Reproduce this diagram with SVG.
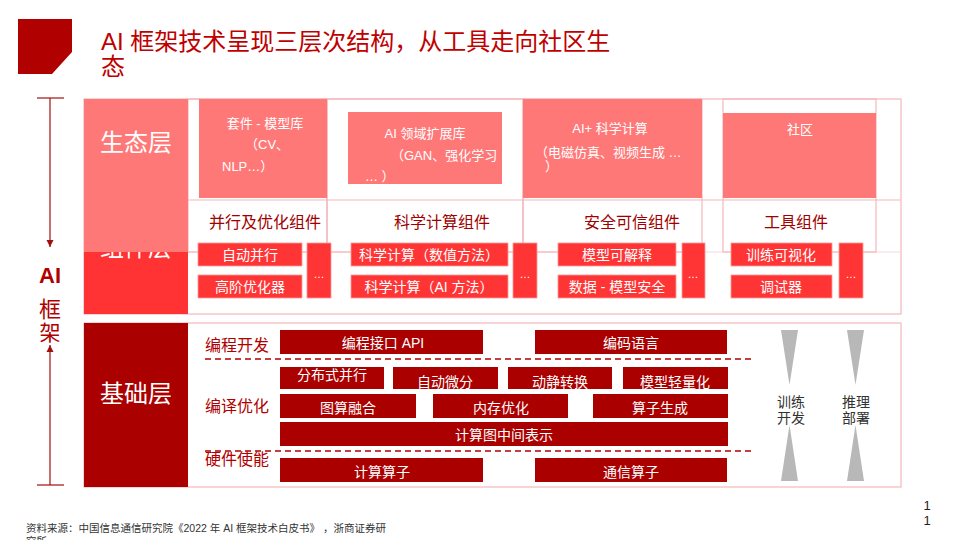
<svg xmlns="http://www.w3.org/2000/svg" width="960" height="540" viewBox="0 0 960 540">
<defs>
<style>
text{font-family:"Liberation Sans","Noto Sans CJK SC",sans-serif;}
.frame{fill:none;stroke:#F4B8BC;stroke-width:1.2;}
.pink{fill:#FF7878;}
.red{fill:#FF3535;stroke:#FF9A9A;stroke-width:0.8;}
.dark{fill:#AB0000;}
.wt{fill:#FFFFFF;font-size:13px;}
.wc{fill:#FFFFFF;font-size:14px;text-anchor:middle;}
.ct{fill:#A00000;font-size:16px;text-anchor:middle;}
.bl{fill:#B00000;font-size:16px;}
.layer{fill:#FFFFFF;font-size:24px;text-anchor:middle;}
.dots{fill:#FFFFFF;font-size:11px;text-anchor:middle;}
.dash{stroke:#B00000;stroke-width:1.3;stroke-dasharray:6 4;fill:none;}
.axis{stroke:#A01010;stroke-width:1.2;fill:none;}
.tri{fill:#B8B8B8;}
.gt{fill:#333333;font-size:14px;text-anchor:middle;}
</style>
<marker id="ah" viewBox="0 0 10 10" refX="10" refY="5" markerWidth="6" markerHeight="6" orient="auto-start-reverse">
<path d="M0,0 L10,5 L0,10 z" fill="#A01010"/>
</marker>
</defs>
<rect width="960" height="540" fill="#FFFFFF"/>

<g id="title">
<polygon points="18,19 72,19 72,52 52,74 18,74" fill="#B00000"/>
<text x="101" y="50" style="font-size:24px;fill:#C00000;">AI 框架技术呈现三层次结构，从工具走向社区生</text>
<text x="101" y="75" style="font-size:24px;fill:#C00000;">态</text>
</g>

<g id="axis-label">
<text x="50" y="283" style="font-size:22px;font-weight:bold;fill:#B00000;text-anchor:middle;">AI</text>
<text x="50" y="317" style="font-size:22px;fill:#B00000;text-anchor:middle;">框</text>
<text x="50" y="340" style="font-size:21px;fill:#B00000;text-anchor:middle;">架</text>
</g>

<g id="connectors">
<line x1="37" y1="98" x2="64" y2="98" class="axis"/>
<line x1="50" y1="98" x2="50" y2="247" class="axis" marker-end="url(#ah)"/>
<line x1="37" y1="485" x2="64" y2="485" class="axis"/>
<line x1="50" y1="485" x2="50" y2="345" class="axis" marker-end="url(#ah)"/>
</g>

<g id="upper-panel">
<rect x="84" y="99" width="817" height="215" class="frame"/>
<line x1="188" y1="200" x2="901" y2="200" class="frame"/>
<line x1="188" y1="252" x2="901" y2="252" class="frame" style="stroke:#F8D8DA"/>
<rect x="188" y="99" width="139" height="153" class="frame"/>
<rect x="327" y="99" width="196" height="153" class="frame"/>
<rect x="523" y="99" width="179" height="153" class="frame"/>
<rect x="723" y="99" width="153" height="153" class="frame"/>
</g>

<g id="layer-component">
<rect x="84" y="200" width="104" height="114" fill="#FF3333"/>
<text x="136" y="256" class="layer">组件层</text>
</g>
<g id="layer-eco">
<rect x="84" y="99" width="104" height="153" class="pink"/>
<text x="136" y="151" class="layer">生态层</text>
</g>

<g id="eco-kit">
<rect x="199" y="99" width="128" height="99" class="pink"/>
<text x="265" y="128" class="wt" text-anchor="middle">套件 - 模型库</text>
<text x="245" y="149" class="wt">（CV、</text>
<text x="222" y="171" class="wt">NLP…）</text>
</g>
<g id="eco-ext">
<rect x="348" y="112" width="154" height="72" class="pink"/>
<text x="425" y="138" class="wt" text-anchor="middle">AI 领域扩展库</text>
<text x="391" y="160" class="wt">（GAN、强化学习</text>
<text x="365" y="181" class="wt">… ）</text>
</g>
<g id="eco-sci">
<rect x="523" y="99" width="179" height="99" class="pink"/>
<text x="610" y="133" class="wt" text-anchor="middle">AI+ 科学计算</text>
<text x="535" y="157" class="wt">（电磁仿真、视频生成 …</text>
<text x="545" y="171" class="wt">）</text>
</g>
<g id="eco-community">
<rect x="723" y="113" width="153" height="85" class="pink"/>
<text x="800" y="134" class="wt" text-anchor="middle">社区</text>
</g>

<g id="comp-parallel">
<text x="265" y="228" class="ct">并行及优化组件</text>
<rect x="198" y="243" width="104" height="23" class="red"/>
<text x="250" y="260" class="wc">自动并行</text>
<rect x="198" y="275" width="104" height="23" class="red"/>
<text x="250" y="292" class="wc">高阶优化器</text>
<rect x="307" y="243" width="24" height="55" class="red"/>
<text x="319" y="278" class="dots">…</text>
</g>
<g id="comp-sci">
<text x="442" y="228" class="ct">科学计算组件</text>
<rect x="351" y="243" width="157" height="23" class="red"/>
<text x="429" y="260" class="wc">科学计算（数值方法）</text>
<rect x="351" y="275" width="157" height="23" class="red"/>
<text x="429" y="292" class="wc">科学计算（AI 方法）</text>
<rect x="513" y="243" width="24" height="55" class="red"/>
<text x="525" y="278" class="dots">…</text>
</g>
<g id="comp-safe">
<text x="632" y="228" class="ct">安全可信组件</text>
<rect x="558" y="243" width="118" height="23" class="red"/>
<text x="617" y="260" class="wc">模型可解释</text>
<rect x="558" y="275" width="118" height="23" class="red"/>
<text x="617" y="292" class="wc">数据 - 模型安全</text>
<rect x="682" y="243" width="23" height="55" class="red"/>
<text x="693" y="278" class="dots">…</text>
</g>
<g id="comp-tool">
<text x="796" y="228" class="ct">工具组件</text>
<rect x="731" y="243" width="101" height="23" class="red"/>
<text x="781" y="260" class="wc">训练可视化</text>
<rect x="731" y="275" width="101" height="23" class="red"/>
<text x="781" y="292" class="wc">调试器</text>
<rect x="839" y="243" width="24" height="55" class="red"/>
<text x="851" y="278" class="dots">…</text>
</g>

<g id="base-panel">
<rect x="84" y="323" width="817" height="164" class="frame"/>
<rect x="84" y="323" width="104" height="164" class="dark"/>
<text x="136" y="402" class="layer">基础层</text>
<line x1="205" y1="359" x2="753" y2="359" class="dash"/>
<line x1="205" y1="451" x2="753" y2="451" class="dash"/>
</g>

<g id="base-prog">
<text x="205" y="351" class="bl">编程开发</text>
<rect x="280" y="330" width="203" height="24" class="dark"/>
<text x="383" y="348" class="wc">编程接口 API</text>
<rect x="535" y="330" width="192" height="24" class="dark"/>
<text x="631" y="348" class="wc">编码语言</text>
</g>
<g id="base-compile">
<text x="205" y="412" class="bl">编译优化</text>
<rect x="280" y="367" width="104" height="22" class="dark"/>
<text x="332" y="380" class="wc">分布式并行</text>
<rect x="393" y="367" width="105" height="22" class="dark"/>
<text x="445" y="387" class="wc">自动微分</text>
<rect x="508" y="367" width="104" height="22" class="dark"/>
<text x="560" y="387" class="wc">动静转换</text>
<rect x="623" y="367" width="105" height="22" class="dark"/>
<text x="675" y="387" class="wc">模型轻量化</text>
<rect x="280" y="394" width="136" height="24" class="dark"/>
<text x="348" y="413" class="wc">图算融合</text>
<rect x="433" y="394" width="135" height="24" class="dark"/>
<text x="501" y="413" class="wc">内存优化</text>
<rect x="593" y="394" width="135" height="24" class="dark"/>
<text x="660" y="413" class="wc">算子生成</text>
<rect x="280" y="422" width="448" height="24" class="dark"/>
<text x="504" y="440" class="wc">计算图中间表示</text>
</g>
<g id="base-hw">
<text x="205" y="465" class="bl">硬件使能</text>
<rect x="280" y="458" width="203" height="24" class="dark"/>
<text x="382" y="477" class="wc">计算算子</text>
<rect x="535" y="458" width="192" height="24" class="dark"/>
<text x="631" y="477" class="wc">通信算子</text>
</g>

<g id="train-dev">
<polygon points="781,330 798,330 789.5,385" class="tri"/>
<polygon points="781,481 798,481 789.5,425" class="tri"/>
<text x="791" y="407" class="gt">训练</text>
<text x="791" y="423" class="gt">开发</text>
</g>
<g id="infer-deploy">
<polygon points="847,330 864,330 855.5,385" class="tri"/>
<polygon points="847,481 864,481 855.5,425" class="tri"/>
<text x="856" y="407" class="gt">推理</text>
<text x="856" y="423" class="gt">部署</text>
</g>

<g id="page-number">
<text x="927" y="510" style="font-size:13px;fill:#222;text-anchor:middle;">1</text>
<text x="927" y="525" style="font-size:13px;fill:#222;text-anchor:middle;">1</text>
</g>
<g id="footnote">
<text x="26" y="532" style="font-size:10.5px;fill:#333;">资料来源：中国信息通信研究院《2022 年 AI 框架技术白皮书》     ，浙商证券研</text>
<text x="26" y="545" style="font-size:10.5px;fill:#333;">究所</text>
</g>
</svg>
